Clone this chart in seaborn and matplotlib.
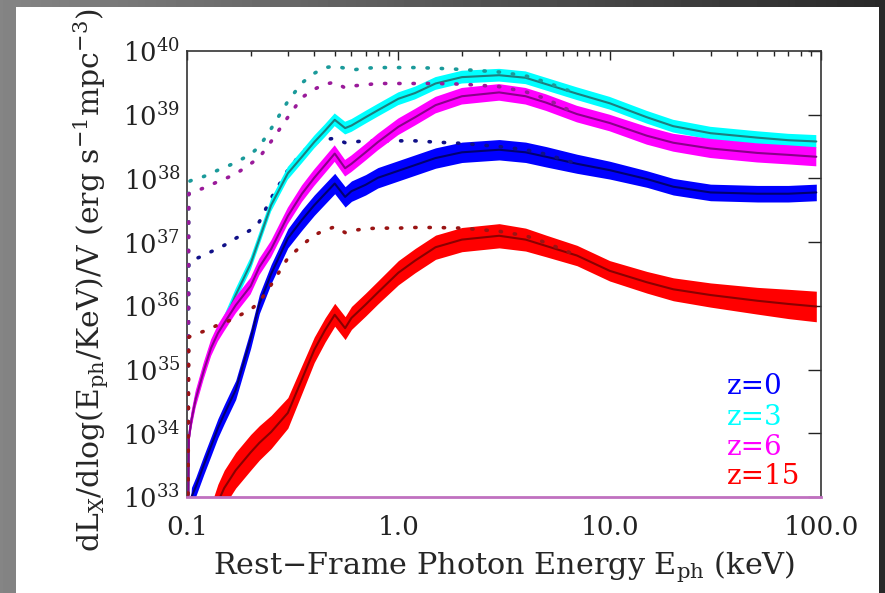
import numpy as np
import pandas as pd
import matplotlib
matplotlib.use("Agg")
import matplotlib.pyplot as plt
import seaborn as sns
from matplotlib.patches import Rectangle
from matplotlib.ticker import NullLocator, FixedLocator, FixedFormatter

# ---------------- data ----------------
energy_keV = [0.1, 0.102, 0.105, 0.11, 0.12, 0.13, 0.14, 0.15, 0.17, 0.2, 0.22, 0.25,
              0.3, 0.35, 0.4, 0.45, 0.5, 0.56, 0.6, 0.7, 0.8, 1.0, 1.2, 1.5, 2, 3, 4,
              5, 7, 10, 15, 20, 30, 50, 70, 95]

# log10 of median dL/dlogE/V (solid curves)
logL_z0 = [30, 32.5, 33.00, 33.16, 33.50, 33.80, 34.08, 34.30, 34.68, 35.48, 36.03, 36.50,
           37.06, 37.35, 37.58, 37.76, 37.92, 37.71, 37.80, 37.90, 38.01, 38.12, 38.21, 38.32,
           38.41, 38.45, 38.41, 38.34, 38.23, 38.13, 37.99, 37.87, 37.78, 37.76, 37.76, 37.78]
logL_z3 = [30, 33.92, 34.21, 34.54, 34.98, 35.34, 35.57, 35.75, 36.17, 36.66, 37.05, 37.58,
           38.08, 38.34, 38.57, 38.75, 38.92, 38.79, 38.83, 38.96, 39.07, 39.25, 39.34, 39.49,
           39.59, 39.62, 39.58, 39.48, 39.33, 39.18, 38.96, 38.82, 38.71, 38.64, 38.60, 38.58]
logL_z6 = [30, 33.92, 34.21, 34.54, 34.98, 35.34, 35.57, 35.73, 36.01, 36.31, 36.61, 36.89,
           37.41, 37.76, 38.01, 38.21, 38.39, 38.16, 38.23, 38.41, 38.57, 38.81, 38.96, 39.15,
           39.29, 39.35, 39.29, 39.19, 39.01, 38.87, 38.67, 38.56, 38.47, 38.40, 38.37, 38.34]
logL_z15 = [30, 30, 30, 30, 30, 32.6, 32.92, 33.14, 33.42, 33.70, 33.85, 34.02,
            34.32, 34.85, 35.31, 35.62, 35.86, 35.65, 35.81, 36.02, 36.21, 36.52, 36.71, 36.92,
            37.04, 37.10, 37.04, 36.94, 36.79, 36.55, 36.37, 36.26, 36.17, 36.08, 36.03, 35.99]

# half-width of the shaded scatter band (dex)
sig_z0 = [0.15] * 13 + [0.16] * 15 + [0.15, 0.14, 0.13, 0.13, 0.13, 0.13, 0.13, 0.13]
sig_z3 = [0.10] * 36
sig_z6 = [0.13] * 29 + [0.13, 0.14, 0.14, 0.15, 0.15, 0.15, 0.15]
sig_z15 = [0.28] * 10 + [0.27, 0.26, 0.24, 0.22, 0.20, 0.19, 0.18, 0.18, 0.18, 0.18, 0.18,
                         0.19, 0.19, 0.19, 0.19, 0.19, 0.18, 0.17, 0.16, 0.16, 0.17, 0.18,
                         0.19, 0.21, 0.23, 0.24]

# log10 of unabsorbed spectra (dotted curves), first 29 energies
logD_z0 = [30, 36.69, 36.72, 36.74, 36.79, 36.85, 36.90, 36.95, 37.06, 37.19, 37.32, 37.69,
           38.13, 38.41, 38.56, 38.61, 38.63, 38.56, 38.57, 38.59, 38.59, 38.59, 38.59, 38.57,
           38.55, 38.50, 38.45, 38.38, 38.23]
logD_z3 = [30, 37.95, 37.97, 37.99, 38.03, 38.08, 38.13, 38.17, 38.25, 38.38, 38.50, 38.78,
           39.21, 39.50, 39.65, 39.74, 39.76, 39.73, 39.70, 39.73, 39.74, 39.74, 39.74, 39.73,
           39.71, 39.67, 39.61, 39.51, 39.33]
logD_z6 = [30, 37.76, 37.78, 37.80, 37.85, 37.90, 37.95, 37.99, 38.07, 38.23, 38.33, 38.58,
           38.96, 39.27, 39.40, 39.48, 39.51, 39.42, 39.45, 39.47, 39.49, 39.49, 39.49, 39.49,
           39.48, 39.44, 39.36, 39.25, 39.01]
logD_z15 = [30, 35.51, 35.53, 35.56, 35.60, 35.65, 35.70, 35.73, 35.82, 35.94, 36.06, 36.33,
            36.75, 36.95, 37.11, 37.19, 37.24, 37.15, 37.18, 37.21, 37.22, 37.22, 37.23, 37.23,
            37.22, 37.17, 37.10, 36.99, 36.79]

redshift_labels = ["z=0", "z=3", "z=6", "z=15"]
xtick_values = [0.1, 1.0, 10.0, 100.0]
xtick_labels = ["0.1", "1.0", "10.0", "100.0"]
ytick_exponents = [33, 34, 35, 36, 37, 38, 39, 40]

# ---------------- styling ----------------
band_colors = ["#0000ff", "#00ffff", "#ff00ff", "#ff0000"]
line_colors = ["#000070", "#1c7f7f", "#8a008a", "#8a0000"]
dot_colors = ["#101088", "#1a9a9a", "#9a1a9a", "#9a1414"]
label_colors = ["#0000ff", "#00ffff", "#ff00ff", "#ff0000"]

sns.set_style("white")
plt.rcParams["font.family"] = ["DejaVu Serif"]
plt.rcParams["mathtext.fontset"] = "dejavuserif"

fig = plt.figure(figsize=(8.85, 5.93), dpi=100)

# slide-like background
bg = fig.add_axes([0, 0, 1, 1], zorder=-10)
bg.axis("off")
grad = np.linspace(0.52, 0.16, 256)[None, :]
bg.imshow(grad, cmap="gray", vmin=0, vmax=1, aspect="auto", extent=[0, 1, 0, 1])
bg.add_patch(Rectangle((0.018, 0.0), 0.975, 0.988, transform=bg.transAxes,
                       facecolor="white", edgecolor="none"))
bg.set_xlim(0, 1)
bg.set_ylim(0, 1)

ax = fig.add_axes([0.2113, 0.1619, 0.7164, 0.7521])
ax.set_facecolor("white")

E = np.array(energy_keV)
series = [(logL_z0, sig_z0, logD_z0), (logL_z3, sig_z3, logD_z3),
          (logL_z6, sig_z6, logD_z6), (logL_z15, sig_z15, logD_z15)]

for i, (lg, sg, dt) in enumerate(series):
    lg = np.array(lg)
    sg = np.array(sg)
    base = 3 * i + 2
    ax.fill_between(E, 10 ** (lg - sg), 10 ** (lg + sg), color=band_colors[i],
                    linewidth=0, zorder=base)
    df = pd.DataFrame({"E": E, "L": 10 ** lg})
    sns.lineplot(data=df, x="E", y="L", ax=ax, color=line_colors[i], linewidth=1.5,
                 estimator=None, sort=False, zorder=base + 0.5)
    dd = pd.DataFrame({"E": E[:len(dt)], "L": 10 ** np.array(dt)})
    sns.lineplot(data=dd, x="E", y="L", ax=ax, color=dot_colors[i], linewidth=2.6,
                 linestyle=(0, (0.35, 3.6)), dash_capstyle="round",
                 estimator=None, sort=False, zorder=base + 1)

ax.set_xscale("log")
ax.set_yscale("log")
ax.set_xlim(0.1, 100)
ax.set_ylim(1e33, 1e40)

ax.xaxis.set_major_locator(FixedLocator(xtick_values))
ax.xaxis.set_major_formatter(FixedFormatter(xtick_labels))
yt = [10.0 ** k for k in ytick_exponents]
ax.yaxis.set_major_locator(FixedLocator(yt))
ax.yaxis.set_major_formatter(FixedFormatter([r"$10^{%d}$" % k for k in ytick_exponents]))
ax.yaxis.set_minor_locator(NullLocator())

ax.tick_params(which="both", direction="in", top=True, right=True, colors="#222222")
ax.tick_params(axis="x", which="major", length=6.5, width=1.0, labelsize=19, pad=13)
ax.tick_params(axis="x", which="minor", length=3.5, width=1.0)
ax.tick_params(axis="y", which="major", length=9.7, width=1.0, labelsize=18.5, pad=5)

for s in ["left", "right", "top"]:
    ax.spines[s].set_color("#333333")
    ax.spines[s].set_linewidth(1.2)
ax.spines["bottom"].set_color("#c070c0")
ax.spines["bottom"].set_linewidth(2.0)
ax.spines["bottom"].set_zorder(20)

ax.set_xlabel("Rest\u2212Frame Photon Energy E$_{\\rm ph}$ (keV)", fontsize=21.8)
ax.xaxis.set_label_coords(0.5, -0.118)
ax.set_ylabel(r"dL$_{\rm X}$/dlog(E$_{\rm ph}$/KeV)/V (erg s$^{-1}$mpc$^{-3}$)", fontsize=21.5)
ax.yaxis.set_label_coords(-0.12, 0.487)

label_y = [0.247, 0.179, 0.112, 0.047]
for txt, col, yy in zip(redshift_labels, label_colors, label_y):
    ax.text(0.852, yy, txt, color=col, fontsize=20, transform=ax.transAxes,
            ha="left", va="center", zorder=30)

fig.savefig("out.png", dpi=100)
